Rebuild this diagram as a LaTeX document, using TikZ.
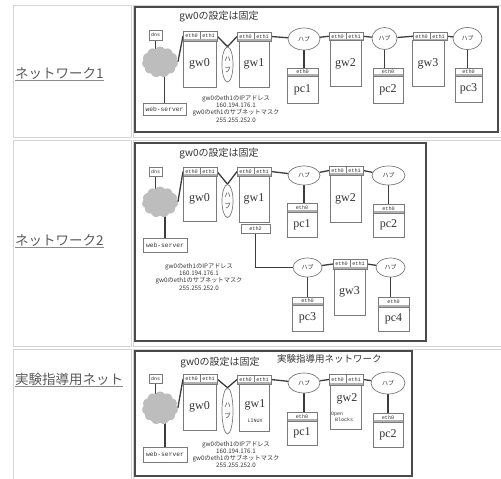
\documentclass[tikz,border=0pt]{standalone}
\usepackage{fontspec}
\setmainfont{Liberation Serif}
\newfontfamily\jpf{Noto Sans CJK JP}
\newfontfamily\monof{Liberation Mono}
\usetikzlibrary{shapes.geometric,shapes.symbols,backgrounds}
\definecolor{frc}{HTML}{4A4A4A}
\definecolor{cellc}{HTML}{D4D4D4}
\definecolor{bxc}{HTML}{7A7A7A}
\definecolor{wirec}{HTML}{3C3C3C}
\definecolor{txtc}{HTML}{333333}
\definecolor{cloudc}{HTML}{BDBDBD}
\definecolor{linkc}{HTML}{5A5A5A}
\definecolor{bandc}{HTML}{B0B0B0}
\newcommand\mkgw[8]{%
 \node[mhdr,minimum height=#4pt,anchor=north west] (#1a) at (#2,#3) {eth0};
 \node[mhdr,minimum height=#4pt,anchor=north west] (#1b) at (#1a.north east) {eth1};
 \node[mbox,mlab,minimum width=#6pt,minimum height=#7pt,anchor=north west] (#1) at (#5,#3+#4) {#8};
 \draw[mband] ([xshift=0.5pt,yshift=1pt]#1a.south west) -- ([xshift=-0.5pt,yshift=1pt]#1b.south east);
}
\newcommand\mkpc[7]{%
 \node[mhdr,minimum width=#4pt,minimum height=#5pt,anchor=north west] (#1h) at (#2,#3) {eth0};
 \node[mbox,mlab,minimum width=#4pt,minimum height=#6pt,anchor=north west] (#1) at (#1h.south west) {#7};
 \draw[mband] ([xshift=0.5pt,yshift=1pt]#1h.south west) -- ([xshift=-0.5pt,yshift=1pt]#1h.south east);
}
\begin{document}
\begin{tikzpicture}[x=1pt,y=-1pt,
 mframe/.style={draw=frc,line width=2pt},
 mcell/.style={draw=cellc,line width=0.8pt},
 mbox/.style={draw=bxc,line width=0.7pt,fill=white,inner sep=0pt,outer sep=0pt},
 mhdr/.style={mbox,minimum width=17pt,font=\monof\fontsize{5.2}{5.5}\selectfont,text=txtc},
 mband/.style={draw=bandc,line width=1.4pt},
 mlab/.style={font=\fontsize{12}{12}\selectfont,text=txtc},
 msmall/.style={font=\monof\fontsize{5}{5}\selectfont,text=txtc,inner sep=0pt},
 mws/.style={mbox,font=\monof\fontsize{6.3}{6.3}\selectfont,text=txtc},
 mhub/.style={ellipse,draw=bxc,line width=0.7pt,fill=white,inner sep=0pt,font=\jpf\fontsize{6}{6}\selectfont,text=txtc},
 mvhub/.style={mhub,align=center,font=\jpf\fontsize{6.5}{11}\selectfont},
 mwire/.style={draw=wirec,line width=1.3pt},
 mcloud/.style={cloud,cloud puffs=11,cloud puff arc=110,aspect=1.1,fill=cloudc,draw=none,inner sep=0pt},
 mttl/.style={font=\jpf\fontsize{10}{10}\selectfont,text=txtc},
 mttlb/.style={font=\jpf\fontsize{9.5}{10}\selectfont,text=txtc,anchor=west,inner sep=0pt},
 mnote/.style={align=center,font=\jpf\fontsize{6.2}{7.1}\selectfont,text=txtc,inner sep=0pt},
 mlink/.style={font=\jpf\fontsize{13.5}{14}\selectfont,text=linkc,anchor=base west,inner sep=0pt},
 mul/.style={draw=linkc!70,line width=0.9pt}]
\useasboundingbox (0,0) rectangle (501,479);
% table cells
\draw[mcell] (13,5) rectangle (131,137);
\draw[mcell] (133,5) rectangle (504,137);
\draw[mcell] (13,140) rectangle (131,346);
\draw[mcell] (133,140) rectangle (504,346);
\draw[mcell] (13,349) rectangle (131,484);
\draw[mcell] (133,349) rectangle (504,484);
% links
\node[mlink] (lk1) at (15,78) {ネットワーク1};
\draw[mul] ([yshift=-2pt]lk1.base west) -- ([yshift=-2pt]lk1.base east);
\node[mlink] (lk2) at (15,245) {ネットワーク2};
\draw[mul] ([yshift=-2pt]lk2.base west) -- ([yshift=-2pt]lk2.base east);
\node[mlink] (lk3) at (15,384) {実験指導用ネット};
\draw[mul] ([yshift=-2pt]lk3.base west) -- ([yshift=-2pt]lk3.base east);

% ===== diagram 1 =====
\draw[mframe] (135,7) rectangle (498,132);
\node[mttl] (dat) at (219,17) {gw0の設定は固定};
\node[mbox,msmall,minimum width=13pt,minimum height=10pt] (dad) at (155.5,35) {dns};
\node[mcloud,minimum width=36pt,minimum height=31pt] (dacl) at (160,62) {};
\node[mws,minimum width=43pt,minimum height=12pt] (daws) at (164.5,109) {web-server};
\mkgw{da0}{183}{31}{10}{183}{33}{46}{gw0}
\node[mvhub,minimum width=11pt,minimum height=35pt] (dah0) at (227.5,64.5) {ハ\\ブ};
\mkgw{da1}{237}{32}{9}{239}{30}{46}{gw1}
\node[mhub,minimum width=32pt,minimum height=22pt] (dah1) at (304,39) {ハブ};
\mkpc{dap1}{287}{68}{31}{8}{27}{pc1}
\mkgw{da2}{329}{32}{8.5}{330}{31}{46}{gw2}
\node[mhub,minimum width=25pt,minimum height=22pt] (dah2) at (384.5,38.5) {ハブ};
\mkpc{dap2}{373}{68}{30}{8}{27}{pc2}
\mkgw{da3}{413}{32}{8.5}{412}{32}{46}{gw3}
\node[mhub,minimum width=29pt,minimum height=22pt] (dah3) at (467.5,38.5) {ハブ};
\mkpc{dap3}{455}{68}{27}{8}{26}{pc3}
\node[mnote] (dan) at (236,109) {gw0のeth1のIPアドレス\\160.194.176.1\\gw0のeth1のサブネットマスク\\255.255.252.0};
\begin{scope}[on background layer]
\draw[mwire] (dad) -- (dad |- dacl);
\draw[mwire] (daws) -- (daws |- dacl);
\draw[mwire] (dacl.east) -- (da0a.west);
\draw[mwire] (da0b.east) -- (dah0.north) -- (da1a.west);
\draw[mwire] (da1b.east) -- (dah1);
\draw[mwire] (dah1) -- (dah1 |- dap1h.north);
\draw[mwire] (dah1) -- (da2a.west);
\draw[mwire] (da2b.east) -- (dah2);
\draw[mwire] (dah2) -- (dah2 |- dap2h.north);
\draw[mwire] (dah2) -- (da3a.west);
\draw[mwire] (da3b.east) -- (dah3);
\draw[mwire] (dah3) -- (dah3 |- dap3h.north);
\end{scope}

% ===== diagram 2 =====
\draw[mframe] (135,143) rectangle (426,341);
\node[mttl] (dbt) at (219,154) {gw0の設定は固定};
\node[mbox,msmall,minimum width=13pt,minimum height=9pt] (dbd) at (155.5,171.5) {dns};
\node[mcloud,minimum width=36pt,minimum height=31pt] (dbcl) at (160,202) {};
\node[mws,minimum width=44pt,minimum height=14pt] (dbws) at (165,245.5) {web-server};
\mkgw{db0}{183}{167}{9}{183}{33}{45}{gw0}
\node[mvhub,minimum width=11pt,minimum height=33pt] (dbh0) at (227.5,201) {ハ\\ブ};
\mkgw{db1}{237}{167}{9}{239}{30}{46}{gw1}
\node[mhdr,minimum width=29pt,minimum height=9pt] (dbe2) at (255.5,228.5) {eth2};
\node[mhub,minimum width=32pt,minimum height=19pt] (dbh1) at (304,175.5) {ハブ};
\mkpc{dbp1}{287}{203}{30}{9}{25}{pc1}
\mkgw{db2}{329}{166}{9}{330}{31}{47}{gw2}
\node[mhub,minimum width=33pt,minimum height=19pt] (dbh2) at (388.5,175.5) {ハブ};
\mkpc{dbp2}{373}{204}{31}{9}{24}{pc2}
\node[mhub,minimum width=29pt,minimum height=19pt] (dbh3) at (307.5,267.5) {ハブ};
\mkpc{dbp3}{292}{297}{31}{8}{26}{pc3}
\mkgw{db3}{333}{259}{10}{334}{31}{46}{gw3}
\node[mhub,minimum width=29pt,minimum height=19pt] (dbh4) at (390.5,267.5) {ハブ};
\mkpc{dbp4}{378}{297}{31}{10}{24}{pc4}
\node[mnote] (dbn) at (199,277) {gw0のeth1のIPアドレス\\160.194.176.1\\gw0のeth1のサブネットマスク\\255.255.252.0};
\begin{scope}[on background layer]
\draw[mwire] (dbd) -- (dbd |- dbcl);
\draw[mwire] (dbws) -- (dbws |- dbcl);
\draw[mwire] (dbcl.east) -- (db0a.west);
\draw[mwire] (db0b.east) -- (dbh0.north) -- (db1a.west);
\draw[mwire] (db1b.east) -- (dbh1);
\draw[mwire] (dbh1) -- (dbh1 |- dbp1h.north);
\draw[mwire] (dbh1) -- (db2a.west);
\draw[mwire] (db2b.east) -- (dbh2);
\draw[mwire] (dbh2) -- (dbh2 |- dbp2h.north);
\draw[mwire] (dbe2) -- (dbe2 |- dbh3) -- (dbh3);
\draw[mwire] (dbh3) -- (dbh3 |- dbp3h.north);
\draw[mwire] (dbh3) -- (db3a.west);
\draw[mwire] (db3b.east) -- (dbh4);
\draw[mwire] (dbh4) -- (dbh4 |- dbp4h.north);
\end{scope}

% ===== diagram 3 =====
\draw[mframe] (135,351) rectangle (412,476);
\node[mttl] (dct) at (220,363) {gw0の設定は固定};
\node[mttlb] (dct2) at (277,359) {実験指導用ネットワーク};
\node[mbox,msmall,minimum width=13pt,minimum height=9pt] (dcd) at (155.5,378.5) {dns};
\node[mcloud,minimum width=36pt,minimum height=33pt] (dccl) at (160,408) {};
\node[mws,minimum width=44pt,minimum height=15pt] (dcws) at (165,454.5) {web-server};
\mkgw{dc0}{183}{374}{10}{183}{33}{46}{gw0}
\node[mvhub,minimum width=11pt,minimum height=46pt] (dch0) at (227.5,411) {ハ\\ブ};
\mkgw{dc1}{237}{375}{9}{239}{30}{47}{}
\node[mlab] (dc1l) at (255,405) {gw1};
\node[msmall] (dc1m) at (255,421) {LINUX};
\node[mhub,minimum width=32pt,minimum height=20pt] (dch1) at (304,383) {ハブ};
\mkpc{dcp1}{287}{412}{30}{9}{24}{pc1}
\mkgw{dc2}{329}{374}{11}{330}{31}{44}{}
\node[mlab] (dc2l) at (347,399) {gw2};
\node[msmall] (dc2m) at (337,414) {Open};
\node[msmall] (dc2n) at (344,420) {Blocks};
\node[mhub,minimum width=34pt,minimum height=22pt] (dch2) at (388,383) {ハブ};
\mkpc{dcp2}{373}{413}{30}{9}{25}{pc2}
\node[mnote] (dcn) at (236,454.5) {gw0のeth1のIPアドレス\\160.194.176.1\\gw0のeth1のサブネットマスク\\255.255.252.0};
\begin{scope}[on background layer]
\draw[mwire] (dcd) -- (dcd |- dccl);
\draw[mwire] (dcws) -- (dcws |- dccl);
\draw[mwire] (dccl.east) -- (dc0a.west);
\draw[mwire] (dc0b.east) -- (dch0.north) -- (dc1a.west);
\draw[mwire] (dc1b.east) -- (dch1);
\draw[mwire] (dch1) -- (dch1 |- dcp1h.north);
\draw[mwire] (dch1) -- (dc2a.west);
\draw[mwire] (dc2b.east) -- (dch2);
\draw[mwire] (dch2) -- (dch2 |- dcp2h.north);
\end{scope}
\end{tikzpicture}
\end{document}
